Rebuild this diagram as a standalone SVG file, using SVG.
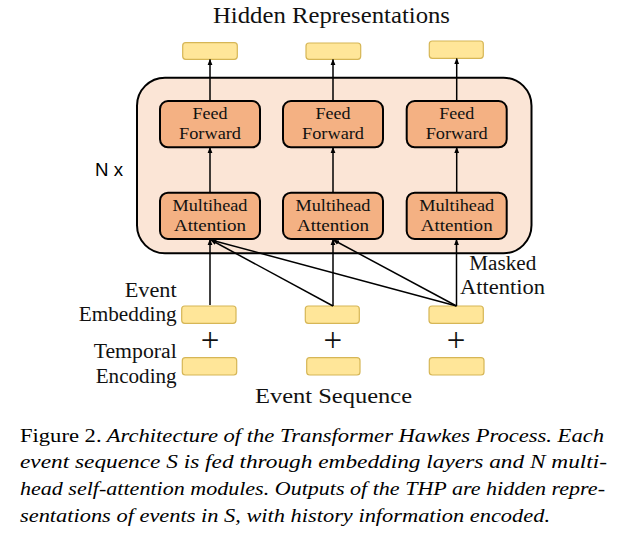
<svg xmlns="http://www.w3.org/2000/svg" width="644" height="547" viewBox="0 0 644 547">
<style>
.lbl{font-family:'Liberation Serif','Times New Roman',Times,serif;fill:#111;}
.box{font-size:17.5px;}
.side{font-size:20px;}
.yel{fill:#FFE699;stroke:#D6B656;stroke-width:1.2;}
.blk{fill:#F4B183;stroke:#000;stroke-width:2;}
.cap{font-family:'Liberation Serif','Times New Roman',Times,serif;font-size:19.5px;font-style:italic;fill:#000;}
.ln{stroke:#000;stroke-width:1.5;fill:none;marker-end:url(#ah);}
</style>
<defs>
<marker id="ah" viewBox="0 0 10 10" refX="9" refY="5" markerWidth="4" markerHeight="4" orient="auto" markerUnits="strokeWidth">
<path d="M0,1 L10,5 L0,9 z" fill="#000"/>
</marker>
</defs>
<rect width="644" height="547" fill="#fff"/>

<text class="lbl" x="213" y="23.3" font-size="22.5" textLength="237" lengthAdjust="spacingAndGlyphs">Hidden Representations</text>

<g id="encoder">
<rect x="137" y="77.7" width="394.5" height="175.6" rx="28" fill="#FBE5D6" stroke="#000" stroke-width="2"/>
</g>
<text x="95" y="176" font-family="'Liberation Sans', Arial, sans-serif" font-size="17.5" fill="#000" textLength="28" lengthAdjust="spacingAndGlyphs">N x</text>

<g id="out1"><rect class="yel" x="182.7" y="42.7" width="54.6" height="16.6" rx="3"/></g>
<g id="out2"><rect class="yel" x="306" y="43" width="54.7" height="16.3" rx="3"/></g>
<g id="out3"><rect class="yel" x="429.3" y="41" width="54" height="17.3" rx="3"/></g>

<g id="ff1"><rect class="blk" x="160" y="101" width="100" height="46.3" rx="8"/>
<text class="lbl box" x="210" y="119" text-anchor="middle" textLength="35" lengthAdjust="spacingAndGlyphs">Feed</text>
<text class="lbl box" x="210" y="139.3" text-anchor="middle" textLength="62" lengthAdjust="spacingAndGlyphs">Forward</text></g>
<g id="ff2"><rect class="blk" x="283" y="101" width="100" height="46.3" rx="8"/>
<text class="lbl box" x="333" y="119" text-anchor="middle" textLength="35" lengthAdjust="spacingAndGlyphs">Feed</text>
<text class="lbl box" x="333" y="139.3" text-anchor="middle" textLength="62" lengthAdjust="spacingAndGlyphs">Forward</text></g>
<g id="ff3"><rect class="blk" x="406.7" y="101" width="100" height="46.3" rx="8"/>
<text class="lbl box" x="456.7" y="119" text-anchor="middle" textLength="35" lengthAdjust="spacingAndGlyphs">Feed</text>
<text class="lbl box" x="456.7" y="139.3" text-anchor="middle" textLength="62" lengthAdjust="spacingAndGlyphs">Forward</text></g>

<g id="mh1"><rect class="blk" x="160" y="192.7" width="100" height="46.3" rx="8"/>
<text class="lbl box" x="210" y="210.7" text-anchor="middle" textLength="75" lengthAdjust="spacingAndGlyphs">Multihead</text>
<text class="lbl box" x="210" y="231" text-anchor="middle" textLength="72" lengthAdjust="spacingAndGlyphs">Attention</text></g>
<g id="mh2"><rect class="blk" x="283" y="192.7" width="100" height="46.3" rx="8"/>
<text class="lbl box" x="333" y="210.7" text-anchor="middle" textLength="75" lengthAdjust="spacingAndGlyphs">Multihead</text>
<text class="lbl box" x="333" y="231" text-anchor="middle" textLength="72" lengthAdjust="spacingAndGlyphs">Attention</text></g>
<g id="mh3"><rect class="blk" x="406.7" y="192.7" width="100" height="46.3" rx="8"/>
<text class="lbl box" x="456.7" y="210.7" text-anchor="middle" textLength="75" lengthAdjust="spacingAndGlyphs">Multihead</text>
<text class="lbl box" x="456.7" y="231" text-anchor="middle" textLength="72" lengthAdjust="spacingAndGlyphs">Attention</text></g>

<g id="emb1"><rect class="yel" x="181.7" y="306" width="54.3" height="17.3" rx="3"/></g>
<g id="emb2"><rect class="yel" x="305.3" y="306" width="54" height="17.3" rx="3"/></g>
<g id="emb3"><rect class="yel" x="429" y="306" width="54.3" height="17.3" rx="3"/></g>
<g id="tmp1"><rect class="yel" x="182.3" y="357.7" width="54.4" height="17.3" rx="3"/></g>
<g id="tmp2"><rect class="yel" x="306.7" y="357.7" width="53.3" height="17.3" rx="3"/></g>
<g id="tmp3"><rect class="yel" x="429.3" y="357.7" width="54.7" height="17.3" rx="3"/></g>

<g id="plus" class="lbl" font-size="33" text-anchor="middle" fill="#333">
<text x="210" y="350.5">+</text>
<text x="332.7" y="350.5">+</text>
<text x="456" y="350.5">+</text>
</g>

<g id="connectors">
<line class="ln" x1="210" y1="101" x2="210" y2="59.5"/>
<line class="ln" x1="333" y1="101" x2="333" y2="59.5"/>
<line class="ln" x1="456.7" y1="101" x2="456.7" y2="58.5"/>
<line class="ln" x1="210" y1="192.7" x2="210" y2="147.5"/>
<line class="ln" x1="333" y1="192.7" x2="333" y2="147.5"/>
<line class="ln" x1="456.7" y1="192.7" x2="456.7" y2="147.5"/>
<line class="ln" x1="210" y1="305" x2="210" y2="239.5"/>
<line class="ln" x1="333" y1="306" x2="333" y2="239.5"/>
<line class="ln" x1="456.5" y1="306" x2="456.5" y2="239.5"/>
<line class="ln" x1="333" y1="306" x2="211" y2="240"/>
<line class="ln" x1="456.5" y1="306" x2="211" y2="240"/>
<line class="ln" x1="456.5" y1="306" x2="333.5" y2="240"/>
</g>

<g id="labels">
<text class="lbl side" x="176.7" y="296.7" text-anchor="end" textLength="52" lengthAdjust="spacingAndGlyphs">Event</text>
<text class="lbl side" x="176.7" y="320.7" text-anchor="end" textLength="98" lengthAdjust="spacingAndGlyphs">Embedding</text>
<text class="lbl side" x="176.7" y="358.3" text-anchor="end" textLength="83" lengthAdjust="spacingAndGlyphs">Temporal</text>
<text class="lbl side" x="176.7" y="382.7" text-anchor="end" textLength="81" lengthAdjust="spacingAndGlyphs">Encoding</text>
<text class="lbl side" x="255" y="403.3" textLength="157" lengthAdjust="spacingAndGlyphs">Event Sequence</text>
<text class="lbl side" x="469.3" y="270" textLength="67" lengthAdjust="spacingAndGlyphs">Masked</text>
<text class="lbl side" x="460" y="294" textLength="85" lengthAdjust="spacingAndGlyphs">Attention</text>
</g>

<g id="caption">
<text class="cap" x="20" y="441.5" textLength="584" lengthAdjust="spacingAndGlyphs"><tspan font-style="normal">Figure 2.</tspan> Architecture of the Transformer Hawkes Process. Each</text>
<text class="cap" x="20" y="468.3" textLength="587" lengthAdjust="spacingAndGlyphs">event sequence S is fed through embedding layers and N multi-</text>
<text class="cap" x="20" y="495" textLength="585" lengthAdjust="spacingAndGlyphs">head self-attention modules. Outputs of the THP are hidden repre-</text>
<text class="cap" x="20" y="521.7" textLength="530" lengthAdjust="spacingAndGlyphs">sentations of events in S, with history information encoded.</text>
</g>
</svg>
